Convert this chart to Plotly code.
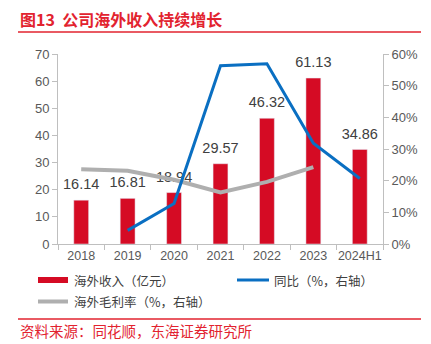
import plotly.graph_objects as go

categories = ["2018", "2019", "2020", "2021", "2022", "2023", "2024H1"]
revenue = [16.14, 16.81, 18.94, 29.57, 46.32, 61.13, 34.86]
revenue_labels = ["16.14", "16.81", "18.94", "29.57", "46.32", "61.13", "34.86"]
yoy_cats = ["2019", "2020", "2021", "2022", "2023", "2024H1"]
yoy = [0.043, 0.128, 0.563, 0.569, 0.318, 0.207]
margin_cats = ["2018", "2019", "2020", "2021", "2022", "2023"]
gross_margin = [0.236, 0.231, 0.203, 0.163, 0.196, 0.243]

W, H = 431, 344
L, R, T, B = 58, 383, 54, 244

RED = "#D50B24"
TITLE_RED = "#E2232F"
BLUE = "#0A6FC2"
GRAY = "#AFAFAF"
AX = "#BFBFBF"
TXT = "#595959"
CJK = "Noto Sans CJK SC"
LAT = "Liberation Sans, Arial"

def px(x):
    return (x - L) / (R - L)

def py(y):
    return (B - y) / (B - T)

fig = go.Figure()
fig.add_trace(go.Bar(x=categories, y=revenue, marker_color=RED, width=0.32,
                     name="海外收入（亿元）", showlegend=False))
fig.add_trace(go.Scatter(x=categories, y=revenue, mode="markers+text", text=revenue_labels,
                         textposition="top center", marker=dict(size=10, opacity=0),
                         textfont=dict(family=LAT, size=14.5, color="#404040"),
                         showlegend=False, hoverinfo="skip"))
fig.add_trace(go.Scatter(x=margin_cats, y=gross_margin, yaxis="y2", mode="lines",
                         line=dict(color=GRAY, width=4), name="海外毛利率（%，右轴）", showlegend=False))
fig.add_trace(go.Scatter(x=yoy_cats, y=yoy, yaxis="y2", mode="lines",
                         line=dict(color=BLUE, width=3), name="同比（%，右轴）", showlegend=False))

annotations = []
# title
annotations.append(dict(x=px(18), y=py(19), xref="paper", yref="paper", xanchor="left", yanchor="middle",
                        text="<b>图13  公司海外收入持续增长</b>", showarrow=False,
                        font=dict(family=CJK, size=16, color=TITLE_RED)))
# source
annotations.append(dict(x=px(18), y=py(330), xref="paper", yref="paper", xanchor="left", yanchor="middle",
                        text="资料来源：同花顺，东海证券研究所", showarrow=False,
                        font=dict(family=CJK, size=14.5, color=TITLE_RED)))
# legend texts
for x0, y0, t in [(72, 280, "海外收入（亿元）"), (272, 280, "同比（%，右轴）"), (72, 301.5, "海外毛利率（%，右轴）")]:
    annotations.append(dict(x=px(x0), y=py(y0), xref="paper", yref="paper", xanchor="left", yanchor="middle",
                            text=t, showarrow=False, font=dict(family=CJK, size=12.5, color="#404040")))

shapes = [
    dict(type="line", xref="paper", yref="paper", x0=px(18), x1=px(421), y0=py(32), y1=py(32),
         line=dict(color=TITLE_RED, width=1.5)),
    dict(type="line", xref="paper", yref="paper", x0=px(18), x1=px(421), y0=py(319), y1=py(319),
         line=dict(color=TITLE_RED, width=1.5)),
    dict(type="rect", xref="paper", yref="paper", x0=px(38), x1=px(68), y0=py(283), y1=py(277),
         fillcolor=RED, line=dict(width=0)),
    dict(type="line", xref="paper", yref="paper", x0=px(237), x1=px(269), y0=py(280), y1=py(280),
         line=dict(color=BLUE, width=3)),
    dict(type="line", xref="paper", yref="paper", x0=px(38), x1=px(68), y0=py(301.5), y1=py(301.5),
         line=dict(color=GRAY, width=4)),
]

fig.update_layout(
    width=W, height=H,
    margin=dict(l=L, r=W - R, t=T, b=H - B),
    paper_bgcolor="white", plot_bgcolor="white",
    showlegend=False,
    xaxis=dict(type="category", categoryorder="array", categoryarray=categories,
               range=[-0.5, len(categories) - 0.5], tickangle=0,
               showline=True, linecolor=AX, linewidth=1, ticks="outside", tickson="boundaries",
               ticklen=5, tickcolor=AX, showgrid=False, zeroline=False,
               tickfont=dict(family=LAT, size=12.5, color=TXT)),
    yaxis=dict(range=[0, 70], dtick=10, showline=True, linecolor=AX, linewidth=1,
               ticks="outside", ticklen=5, tickcolor=AX, showgrid=False, zeroline=False,
               tickfont=dict(family=LAT, size=13, color=TXT)),
    yaxis2=dict(range=[0, 0.6], dtick=0.1, tickformat=".0%", overlaying="y", side="right",
                showline=True, linecolor=AX, linewidth=1, ticks="outside", ticklen=5, tickcolor=AX,
                showgrid=False, zeroline=False,
                tickfont=dict(family=LAT, size=13, color=TXT)),
    annotations=annotations,
    shapes=shapes,
)

fig.write_html("out.html")
